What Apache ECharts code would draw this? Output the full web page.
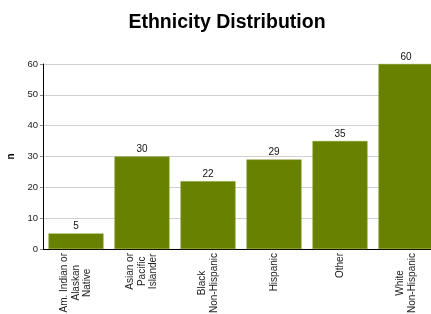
<!DOCTYPE html>
<html>
<head>
<meta charset="utf-8">
<script src="https://cdn.jsdelivr.net/npm/echarts@6/dist/echarts.min.js"></script>
<style>
html,body{margin:0;padding:0;background:#fff;}
#main{width:431px;height:314px;}
</style>
</head>
<body>
<div id="main"></div>
<script>
const categories = ['Am. Indian or\nAlaskan\nNative', 'Asian or\nPacific\nIslander', 'Black\nNon-Hispanic', 'Hispanic', 'Other', 'White\nNon-Hispanic'];
const counts = [5, 30, 22, 29, 35, 60];
const yTicks = [0, 10, 20, 30, 40, 50, 60];

window.addEventListener('load', function () {
    let chart = echarts.init(document.getElementById('main'));
    let option = {
        backgroundColor: '#fff',
        textStyle: {fontFamily: 'Liberation Sans, Arial, sans-serif'},
        title: {
            text: 'Ethnicity Distribution',
            left: 222, top: 8, textAlign: 'center',
            textStyle: {fontSize: 19.5, fontWeight: 'bold', color: '#000'}
        },
        grid: {left: 43, top: 64, bottom: 65, width: 396, containLabel: false, outerBoundsMode: 'none'},
        xAxis: {
            type: 'category',
            data: categories,
            axisLine: {lineStyle: {color: '#000', width: 1}},
            axisTick: {show: false},
            axisLabel: {
                rotate: 90,
                interval: 0,
                margin: 4,
                align: 'right',
                color: '#222',
                fontSize: 10,
                formatter: function (v) {
                    return v.split('\n').map(s => '{c|' + s + '}').join('\n');
                },
                rich: {c: {align: 'center', fontSize: 10, color: '#222', lineHeight: 11.5}}
            }
        },
        yAxis: {
            type: 'value',
            min: 0, max: 60, interval: 10,
            name: 'n',
            nameLocation: 'middle',
            nameGap: 22,
            nameRotate: 90,
            nameTextStyle: {fontWeight: 'bold', fontSize: 10, color: '#000'},
            axisLine: {show: true, lineStyle: {color: '#000'}},
            axisTick: {show: true, length: 3, lineStyle: {color: '#888'}},
            axisLabel: {
                color: '#222', fontSize: 9.5, margin: 5,
                formatter: function (v) { return yTicks.indexOf(v) >= 0 ? String(v) : ''; }
            },
            splitLine: {lineStyle: {color: '#d0d0d0'}}
        },
        series: [{
            type: 'bar',
            data: counts,
            barWidth: 55,
            itemStyle: {color: '#688200', borderColor: '#7f9a1e', borderWidth: 0.5},
            label: {show: true, position: 'top', distance: 2, color: '#111', fontSize: 10}
        }]
    };
    chart.setOption(option);
});
</script>
</body>
</html>
